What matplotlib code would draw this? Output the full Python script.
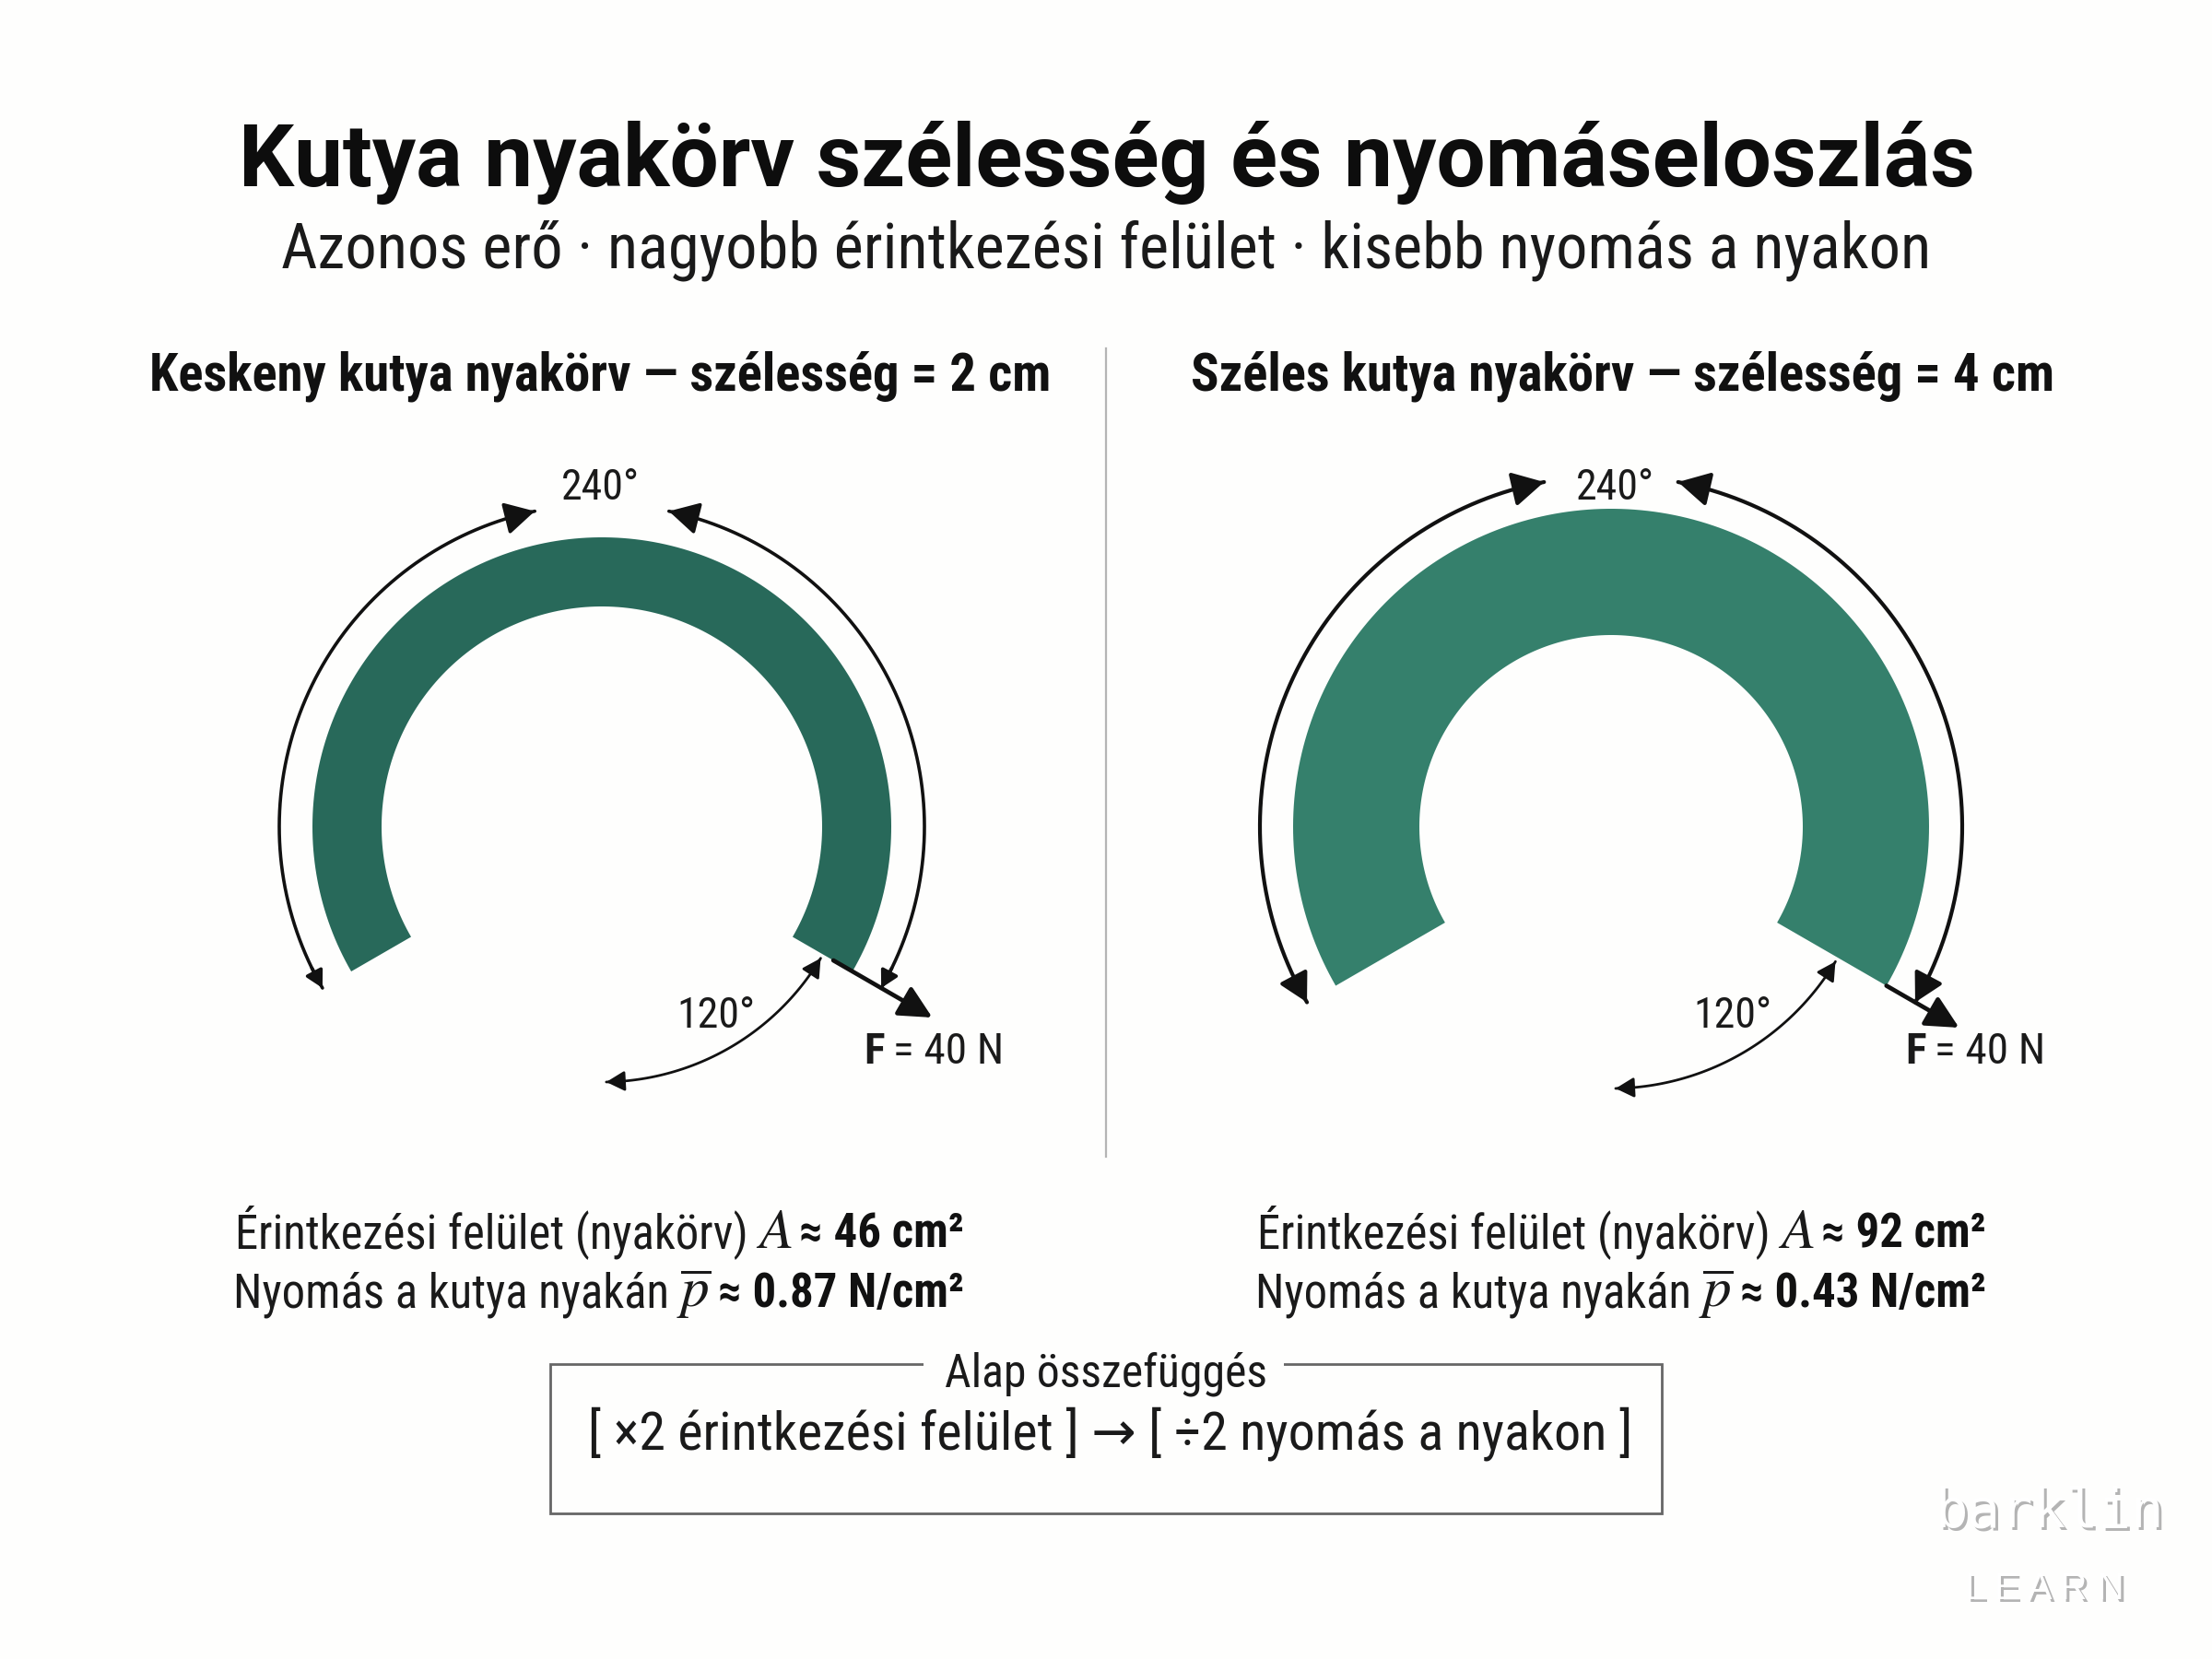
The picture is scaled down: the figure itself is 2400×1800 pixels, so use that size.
import numpy as np
import matplotlib
matplotlib.use("Agg")
import matplotlib.pyplot as plt
from matplotlib.patches import Polygon, Rectangle

plt.rcParams['mathtext.fontset'] = 'stix'

# Adatok
SZELESSEG = [2, 4]
FELULET = [46, 92]
NYOMAS = ["0.87", "0.43"]
ERO = 40
IV = 240
RES = 120

CIM = "Kutya nyakörv szélesség és nyomáseloszlás"
ALCIM = "Azonos erő · nagyobb érintkezési felület · kisebb nyomás a nyakon"
FEJLECEK = ["Keskeny kutya nyakörv", "Széles kutya nyakörv"]

NARROW = ['Roboto Condensed', 'Roboto', 'DejaVu Sans']
ZOLD = ['#28695a', '#35806c']

fig = plt.figure(figsize=(24, 18), dpi=100, facecolor='#fefefd')
ax = fig.add_axes([0, 0, 1, 1])
ax.set_xlim(0, 2400)
ax.set_ylim(1800, 0)
ax.axis('off')
renderer = fig.canvas.get_renderer()


def pont(cx, cy, r, t):
    t = np.radians(t)
    return cx + r * np.cos(t), cy - r * np.sin(t)


def felirat(x, y, s, szel=None, **kw):
    # ha van szel, a betumeretet a kivant szelesseghez igazitja
    t = ax.text(x, y, s, **kw)
    if szel:
        w = t.get_window_extent(renderer).width
        t.set_fontsize(t.get_fontsize() * szel / w)
    return t


def darabok(x, y, runs):
    for s, kw in runs:
        t = ax.text(x, y, s, va='baseline', ha='left', **kw)
        x += t.get_window_extent(renderer).width + 8


def fej(cx, cy, r, t1, lep, lw, meret):
    ax.annotate('', xy=pont(cx, cy, r, t1), xytext=pont(cx, cy, r, t1 - lep),
                arrowprops=dict(arrowstyle='-|>,head_length=0.55,head_width=0.3', mutation_scale=meret,
                                color='#111111', lw=lw, shrinkA=0, shrinkB=0))


def nyil(cx, cy, r, t0, t1, lw, meret, meret0=None):
    t = np.linspace(t0, t1, 80)
    x, y = pont(cx, cy, r, t)
    ax.plot(x, y, color='#111111', lw=lw, solid_capstyle='round')
    lep = 4 if t1 > t0 else -4
    fej(cx, cy, r, t1, lep, lw, meret)
    if meret0:
        fej(cx, cy, r, t0, -lep, lw, meret0)


def gyuru(cx, cy, r_ki, r_be, szin, r_nyil, r_res, r_f0, r_f1, lw, meret, also, vege, fx, tx):
    kezd = 90 + IV / 2
    veg = 90 - IV / 2
    t = np.linspace(veg, kezd, 200)
    xk, yk = pont(cx, cy, r_ki, t)
    xb, yb = pont(cx, cy, r_be, t[::-1])
    ax.add_patch(Polygon(np.column_stack([np.r_[xk, xb], np.r_[yk, yb]]), closed=True, fc=szin, ec='none'))

    # 240 fokos ivek es 120 fokos res
    nyil(cx, cy, r_nyil, kezd, 90 + vege, lw, meret, also)
    nyil(cx, cy, r_nyil, veg, 90 - vege, lw, meret, also)
    nyil(cx, cy, r_res, -89, veg - 1, 2.0, 22, 22)

    # ero nyil
    ax.annotate('', xy=pont(cx, cy, r_f1, veg), xytext=pont(cx, cy, r_f0, veg),
                arrowprops=dict(arrowstyle='-|>,head_length=0.6,head_width=0.3', mutation_scale=36,
                                color='#111111', lw=3.4, shrinkA=0, shrinkB=0))
    felirat(cx - 2 if r_ki < 330 else cx + 4, 529, f"{IV}°", family=NARROW, fontsize=33, ha='center', va='center', color='#1a1a1a')
    felirat(tx, 1102, f"{RES}°", family=NARROW, fontsize=33, ha='center', va='center', color='#1a1a1a')
    x = fx
    a = ax.text(x, 1141, "F", family=NARROW, fontsize=34, fontweight='bold', ha='left', va='center', color='#1a1a1a')
    x += a.get_window_extent(renderer).width + 9
    ax.text(x, 1141, f"= {ERO} N", family=NARROW, fontsize=34, ha='left', va='center', color='#1a1a1a')


# Cimek
felirat(1201, 177, CIM, szel=1883, family=['Roboto', 'DejaVu Sans'], fontweight='bold', fontsize=50,
        ha='center', va='center', color='#0d0d0d')
felirat(1200, 272, ALCIM, szel=1788, family=NARROW, fontsize=50, ha='center', va='center', color='#1a1a1a')
felirat(651, 408, f"{FEJLECEK[0]} — szélesség = {SZELESSEG[0]} cm", szel=978, family=NARROW, fontweight='bold',
        fontsize=40, ha='center', va='center', color='#111111')
felirat(1761, 408, f"{FEJLECEK[1]} — szélesség = {SZELESSEG[1]} cm", szel=937, family=NARROW, fontweight='bold',
        fontsize=40, ha='center', va='center', color='#111111')
ax.plot([1200, 1200], [378, 1255], color='#b4b4b4', lw=1.6)

gyuru(653, 897, 314, 239, ZOLD[0], 350, 277, 290, 414, 2.6, 36, 20, 12, 937, 777)
gyuru(1748, 897, 345, 208, ZOLD[1], 381, 284, 345, 436, 3.0, 38, 34, 11, 2067, 1880)

# Ertekek
for i, (x1, x2) in enumerate([(255, 253), (1364, 1362)]):
    rendes = dict(family=NARROW, fontsize=36.5, color='#1a1a1a')
    felk = dict(family=NARROW, fontsize=36.5, fontweight='bold', color='#111111')
    mat = dict(fontsize=44, color='#1a1a1a')
    darabok(x1, 1354, [("Érintkezési felület (nyakörv)", rendes), ("$A$", mat),
                       (f"≈ {FELULET[i]} cm²", felk)])
    darabok(x2, 1418, [("Nyomás a kutya nyakán", rendes), (r"$\overline{p}$", mat),
                       (f"≈ {NYOMAS[i]} N/cm²", felk)])

# Keret
ax.add_patch(Rectangle((597, 1480), 1206, 162, fc='none', ec='#666666', lw=2.0))
ax.add_patch(Rectangle((1002, 1470), 391, 20, fc='#fefefd', ec='none', zorder=3))
felirat(1200, 1491, "Alap összefüggés", szel=350, family=NARROW, fontsize=36, ha='center', va='center',
        color='#1a1a1a', zorder=4)
felirat(1205, 1556, f"[ ×2 érintkezési felület ] → [ ÷2 nyomás a nyakon ]", szel=1134, family=NARROW,
        fontsize=42, ha='center', va='center', color='#1a1a1a')

# Vizjel
for dx, szin in [(3, '#b4b4b4'), (0, '#ffffff')]:
    felirat(2224 + dx, 1640 + dx, "barklin", szel=248, family='DejaVu Sans Mono', fontsize=44, ha='center',
            va='center', color=szin)
    felirat(2218 + dx, 1724 + dx, "L E A R N", szel=173, family='Liberation Sans', fontsize=24, ha='center',
            va='center', color=szin)

fig.savefig("out.png", dpi=100, facecolor=fig.get_facecolor())
